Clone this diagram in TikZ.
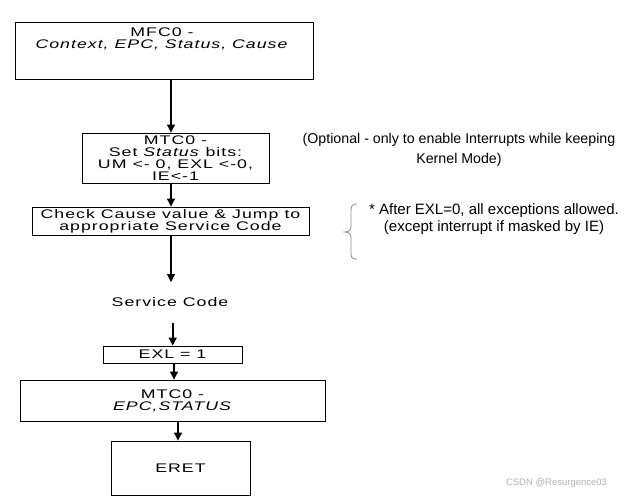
\documentclass[tikz,border=0pt]{standalone}
\usepackage{fontspec}
\setmainfont{Liberation Sans}
\newfontfamily\boxfont[FakeStretch=1.42,LetterSpace=8]{Liberation Sans}
\usetikzlibrary{arrows.meta}
\tikzset{
  flowbox/.style={draw=black, line width=0.9pt, inner sep=0pt, align=center,
    font=\boxfont\fontsize{12.5}{12}\selectfont},
  boxtext/.style={inner sep=0pt, align=center, font=\boxfont\fontsize{12.5}{12}\selectfont},
  arr/.style={-{Triangle[width=8pt,length=8pt]}, line width=1.1pt},
  note/.style={inner sep=0pt, align=center, font=\fontsize{14.2}{20}\selectfont},
  notetwo/.style={inner sep=0pt, align=center, font=\fontsize{15}{17}\selectfont},
  wmark/.style={inner sep=0pt, text=black!30, font=\fontsize{9.5}{12}\selectfont}
}
\begin{document}
\begin{tikzpicture}[x=1pt,y=-1pt]
\useasboundingbox[fill=white] (0,0) rectangle (624,496);
% boxes
\node[flowbox, minimum width=298pt, minimum height=57pt] (mfc) at (164,50.5) {};
\node[boxtext] (mfctxt) at (162,38.5) {MFC0 -\\\textit{Context, EPC, Status, Cause}};
\node[flowbox, minimum width=187pt, minimum height=50pt] (mtc) at (175.5,158)
  {MTC0 -\\Set \textit{Status} bits:\\UM <- 0, EXL <-0,\\IE<-1};
\node[flowbox, minimum width=277pt, minimum height=28pt] (chk) at (170.5,221)
  {Check Cause value \& Jump to\\appropriate Service Code};
\node[boxtext] (svc) at (170,302) {Service Code};
\node[flowbox, minimum width=139pt, minimum height=17pt] (exl) at (172.5,354.5) {EXL = 1};
\node[flowbox, minimum width=305pt, minimum height=41pt] (mtc2) at (172.5,400.5)
  {MTC0 -\\\textit{EPC,STATUS}};
\node[flowbox, minimum width=139pt, minimum height=54pt] (eret) at (180.5,468) {ERET};
% connectors
\coordinate (svcin) at (171,282);
\coordinate (svcout) at (172.7,323);
\draw[arr] (171,0 |- mfc.south) -- (171,0 |- mtc.north);
\draw[arr] (171,0 |- mtc.south) -- (171,0 |- chk.north);
\draw[arr] (171,0 |- chk.south) -- (svcin);
\draw[arr, line width=1.7pt] (svcout) -- (172.7,0 |- exl.north);
\draw[arr] (174,0 |- exl.south) -- (174,0 |- mtc2.north);
\draw[arr] (178,0 |- mtc2.south) -- (178,0 |- eret.north);
% notes
\node[note] (opt) at (459,150) {(Optional - only to enable Interrupts while keeping\\Kernel Mode)};
\node[notetwo] (after) at (494,219.5) {* After EXL=0, all exceptions allowed.\\(except interrupt if masked by IE)};
\draw[black!45, line width=0.8pt]
  (357,204) .. controls (352,204) and (351,206) .. (351,211) -- (351,226)
  .. controls (351,230) and (349,232) .. (345,232)
  .. controls (349,232) and (351,234) .. (351,238) -- (351,253)
  .. controls (351,258) and (352,259) .. (357,259);
\node[wmark] (wm) at (556.5,483) {CSDN @Resurgence03};
\end{tikzpicture}
\end{document}
